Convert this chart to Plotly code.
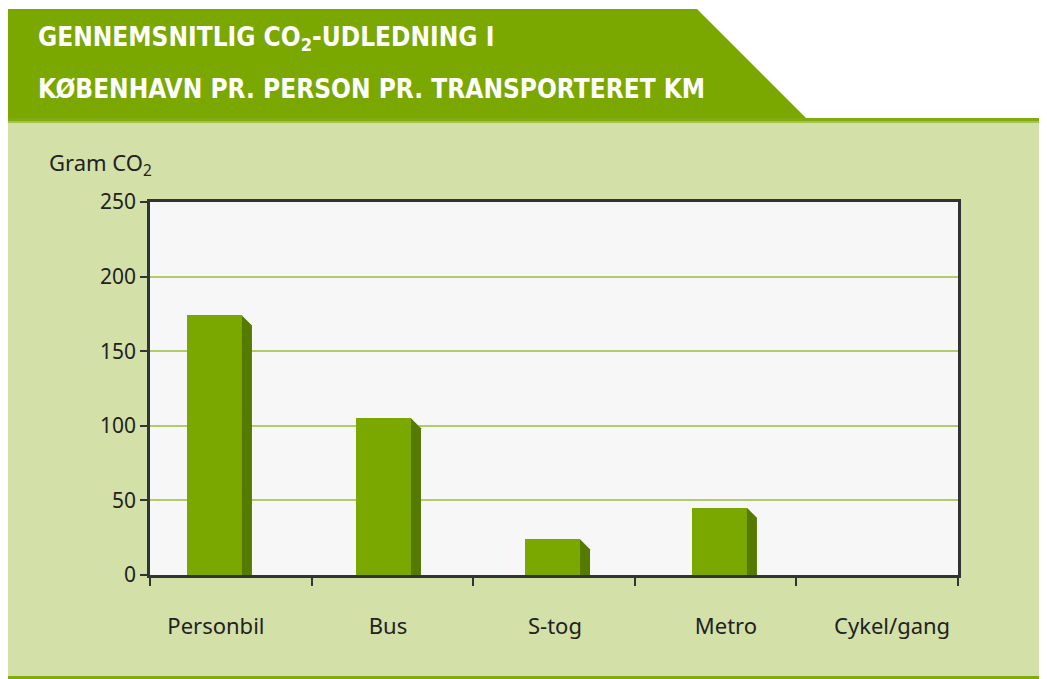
import plotly.graph_objects as go

# ---- data ----
categories = ["Personbil", "Bus", "S-tog", "Metro", "Cykel/gang"]
co2_gram = [174, 105, 24, 45, 0]
y_ticks = [0, 50, 100, 150, 200, 250]
title_line1 = "GENNEMSNITLIG CO<sub>2</sub>-UDLEDNING I"
title_line2 = "KØBENHAVN PR. PERSON PR. TRANSPORTERET KM"
y_label = "Gram CO<sub>2</sub>"

# ---- style ----
OFF = 8                      # page body margin
W, H = 1047 - OFF, 679 - OFF
ML, MR, MT, MB = 150 - OFF, 89, 202 - OFF, 104
PW, PH = W - ML - MR, H - MT - MB
HEADER_GREEN = "#7ba800"
PANEL_GREEN = "#d3e0a8"
PLOT_BG = "#f7f7f7"
BAR_FRONT = "#7aa700"
BAR_SIDE = "#547b00"
GRID = "#b0cc6a"
AXIS = "#333333"
FONT = "Noto Sans"
TITLE_FONT = "DejaVu Sans Condensed, Liberation Sans Narrow, sans-serif"

BAR_W = 0.34                      # front face width (category units)
BAR_OFF = [-0.271, -0.225, -0.179, -0.146, -0.113]   # perspective shift
LABEL_SHIFT = [-0.092, -0.027, 0.006, 0.064, 0.092]
SIDE_D = 10 / (PW / 5)            # side depth in category units
SIDE_DY = 10 / (PH / 250)         # chamfer in value units


def fx(px):  # page pixel -> paper fraction
    return (px - OFF - ML) / PW


def fy(py):
    return (H - MB - (py - OFF)) / PH


idx = list(range(len(categories)))

fig = go.Figure()
fig.add_trace(go.Bar(
    x=idx, y=co2_gram, width=BAR_W, offset=BAR_OFF,
    marker=dict(color=BAR_FRONT, line=dict(width=0)),
    hoverinfo="skip", showlegend=False,
))

for i, v in zip(idx, co2_gram):
    if v <= 0:
        continue
    xl = i + BAR_OFF[i] + BAR_W
    xr = xl + SIDE_D
    fig.add_trace(go.Scatter(
        x=[xl, xl, xr, xr, xl],
        y=[0, v, max(v - SIDE_DY, 0), 0, 0],
        fill="toself", fillcolor=BAR_SIDE, mode="lines",
        line=dict(width=0, color=BAR_SIDE),
        hoverinfo="skip", showlegend=False,
    ))

shapes = [
    # header band with slanted right end
    dict(type="path", xref="paper", yref="paper", layer="below",
         path=f"M {fx(8)},{fy(9)} L {fx(697)},{fy(9)} L {fx(806)},{fy(118)} L {fx(8)},{fy(118)} Z",
         fillcolor=HEADER_GREEN, line=dict(width=0)),
    # light panel
    dict(type="rect", xref="paper", yref="paper", layer="below",
         x0=fx(8), x1=fx(1047), y0=fy(122), y1=fy(676),
         fillcolor=PANEL_GREEN, line=dict(width=0)),
    # rule under header
    dict(type="rect", xref="paper", yref="paper", layer="below",
         x0=fx(8), x1=fx(1047), y0=fy(118), y1=fy(122),
         fillcolor="#7fab0c", line=dict(width=0)),
    dict(type="rect", xref="paper", yref="paper", layer="below",
         x0=fx(8), x1=fx(1047), y0=fy(121), y1=fy(123),
         fillcolor="#a3c452", line=dict(width=0)),
    # bottom rule
    dict(type="rect", xref="paper", yref="paper", layer="below",
         x0=fx(8), x1=fx(1047), y0=fy(676), y1=fy(679),
         fillcolor="#7fab0c", line=dict(width=0)),
    # plot background (above the panel)
    dict(type="rect", xref="paper", yref="paper", layer="below",
         x0=0, x1=1, y0=0, y1=1,
         fillcolor=PLOT_BG, line=dict(width=0)),
]

annotations = [
    dict(text=f"<b>{title_line1}</b>", xref="paper", yref="paper",
         x=fx(36), y=fy(57), xanchor="left", yanchor="bottom", showarrow=False,
         font=dict(family=TITLE_FONT, size=26, color="white")),
    dict(text=f"<b>{title_line2}</b>", xref="paper", yref="paper",
         x=fx(36), y=fy(106), xanchor="left", yanchor="bottom", showarrow=False,
         font=dict(family=TITLE_FONT, size=26, color="white")),
    dict(text=y_label, xref="paper", yref="paper",
         x=fx(47), y=fy(183), xanchor="left", yanchor="bottom", showarrow=False,
         font=dict(family=FONT, size=22, color="#222")),
]

fig.update_layout(
    width=W, height=H,
    margin=dict(l=ML, r=MR, t=MT, b=MB, autoexpand=False),
    paper_bgcolor="white", plot_bgcolor="rgba(0,0,0,0)",
    shapes=shapes, annotations=annotations,
    showlegend=False, bargap=0,
    font=dict(family=FONT, size=21, color="#222"),
)

fig.update_xaxes(
    range=[-0.5, len(categories) - 0.5],
    tickmode="array",
    tickvals=[i + s for i, s in zip(idx, LABEL_SHIFT)],
    ticktext=categories,
    ticks="", showgrid=False, zeroline=False,
    showline=True, linecolor=AXIS, linewidth=2.5, mirror=True,
    ticklabelstandoff=30,
    tickfont=dict(family=FONT, size=22, color="#222"),
    minor=dict(tickmode="array",
               tickvals=[i - 0.5 for i in range(len(categories) + 1)],
               ticks="outside", ticklen=8, tickwidth=2, tickcolor=AXIS,
               showgrid=False),
    fixedrange=True,
)
fig.update_yaxes(
    range=[0, 250], tickmode="array", tickvals=y_ticks,
    ticks="outside", ticklen=7, tickwidth=2, tickcolor=AXIS,
    showgrid=True, gridcolor=GRID, gridwidth=1.5, zeroline=False,
    showline=True, linecolor=AXIS, linewidth=2.5, mirror=True,
    tickfont=dict(family=FONT, size=21, color="#222"),
    fixedrange=True,
)

fig.write_html("out.html")
